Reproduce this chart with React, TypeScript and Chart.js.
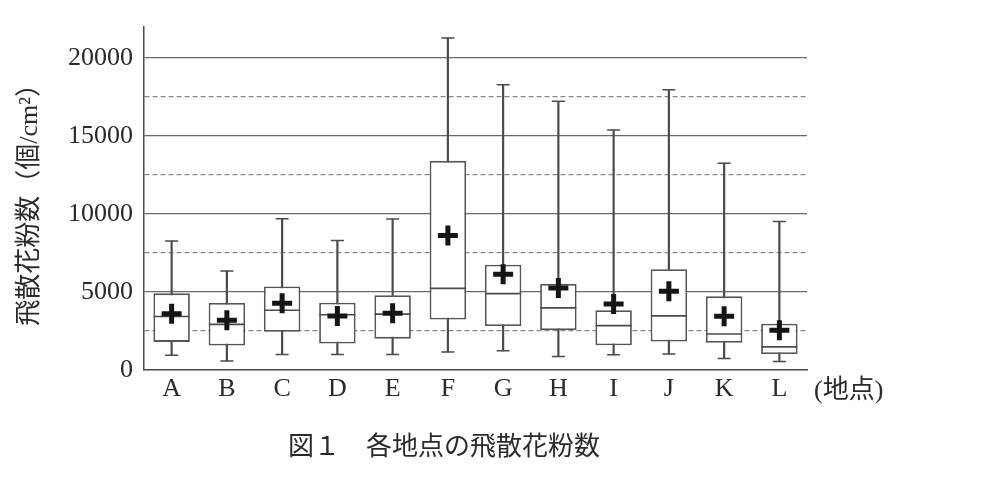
import React, { useEffect, useRef } from "react";
import { Chart, registerables } from "chart.js";

Chart.register(...registerables);

const categories = ["A", "B", "C", "D", "E", "F", "G", "H", "I", "J", "K", "L"];
const mins = [950, 570, 1000, 1000, 1000, 1160, 1230, 870, 970, 1020, 740, 550];
const q1s = [1800, 1570, 2450, 1700, 2010, 3240, 2820, 2560, 1590, 1820, 1740, 1020];
const medians = [3430, 2920, 3830, 3540, 3580, 5230, 4890, 3980, 2840, 3470, 2310, 1480];
const q3s = [4910, 4300, 5350, 4310, 4790, 13400, 6750, 5520, 3830, 6460, 4720, 2960];
const maxs = [8260, 6350, 9690, 8290, 9670, 21270, 18270, 17210, 15370, 17950, 13250, 9520];
const means = [3600, 3180, 4280, 3460, 3640, 8610, 6140, 5250, 4230, 5040, 3450, 2540];

const yTicks = [0, 5000, 10000, 15000, 20000];
const yGridValues = [0, 2500, 5000, 7500, 10000, 12500, 15000, 17500, 20000];
const yMax = 22000;
const yTitle = "飛散花粉数（個/cm²）";
const xUnit = "(地点)";
const caption = "図１　各地点の飛散花粉数";

const SERIF = '"Liberation Serif", "Noto Sans CJK JP", serif';
const LINE = "#4a4a4a";

export default function App() {
  const ref = useRef<HTMLCanvasElement | null>(null);

  useEffect(() => {
    const canvas = ref.current;
    if (!canvas) return;

    const textPlugin = {
      id: "extraText",
      afterDraw(chart: any) {
        const { ctx, chartArea } = chart;
        const xScale = chart.scales.x;
        ctx.save();
        ctx.fillStyle = "#2a2a2a";
        ctx.textBaseline = "middle";
        ctx.font = "26px " + SERIF;
        ctx.textAlign = "left";
        ctx.fillText(xUnit, chartArea.right + 7, xScale.top + 21);
        ctx.font = "26px " + SERIF;
        ctx.textAlign = "center";
        ctx.fillText(caption, chartArea.left + 300, xScale.top + 78);
        ctx.restore();
      },
    };

    const chart = new Chart(canvas, {
      type: "bar",
      data: {
        labels: categories,
        datasets: [
          {
            type: "line",
            label: "mean",
            data: means,
            showLine: false,
            pointStyle: "cross",
            pointRadius: 10,
            pointBorderWidth: 5,
            pointBorderColor: "#151515",
            pointBackgroundColor: "#151515",
            order: 0,
          } as any,
          {
            type: "line",
            label: "median",
            data: medians,
            showLine: false,
            pointStyle: "line",
            pointRadius: 18,
            pointBorderWidth: 1.6,
            pointBorderColor: LINE,
            order: 1,
          } as any,
          {
            type: "line",
            label: "max",
            data: maxs,
            showLine: false,
            pointStyle: "line",
            pointRadius: 6.5,
            pointBorderWidth: 1.5,
            pointBorderColor: LINE,
            order: 2,
          } as any,
          {
            type: "line",
            label: "min",
            data: mins,
            showLine: false,
            pointStyle: "line",
            pointRadius: 6.5,
            pointBorderWidth: 1.5,
            pointBorderColor: LINE,
            order: 2,
          } as any,
          {
            type: "bar",
            label: "box",
            data: categories.map((_, i) => [q1s[i], q3s[i]]),
            backgroundColor: "#ffffff",
            borderColor: "#555555",
            borderWidth: 1.8,
            borderSkipped: false,
            barPercentage: 0.66,
            categoryPercentage: 1,
            grouped: false,
            order: 3,
          } as any,
          {
            type: "bar",
            label: "whisker",
            data: categories.map((_, i) => [mins[i], maxs[i]]),
            backgroundColor: LINE,
            borderWidth: 0,
            barThickness: 1.5,
            grouped: false,
            order: 4,
          } as any,
        ],
      },
      options: {
        animation: false,
        responsive: false,
        maintainAspectRatio: false,
        layout: { padding: { top: 21, right: 193, bottom: 73, left: 0 } },
        plugins: {
          legend: { display: false },
          tooltip: { enabled: false },
          title: { display: false },
        },
        scales: {
          x: {
            type: "category",
            offset: true,
            grid: { display: false, drawTicks: false },
            border: { display: true, color: LINE, width: 1.5 },
            ticks: {
              padding: 4,
              color: "#2a2a2a",
              font: { family: SERIF, size: 26 },
            },
            afterFit: (scale: any) => {
              scale.height = 40;
            },
          },
          y: {
            type: "linear",
            min: 0,
            max: yMax,
            afterBuildTicks: (scale: any) => {
              scale.ticks = yGridValues.map((v) => ({ value: v }));
            },
            grid: {
              drawTicks: false,
              lineWidth: 1.2,
              color: (ctx: any) => {
                const v = ctx.tick ? ctx.tick.value : -1;
                if (v > 0 && v % 5000 === 0) return "#6a6a6a";
                if (v > 0 && v % 2500 === 0) return "#8a8a8a";
                return "rgba(0,0,0,0)";
              },
            },
            border: {
              display: true,
              color: LINE,
              width: 1.5,
              dash: (ctx: any) =>
                ctx.tick && ctx.tick.value % 5000 !== 0 ? [5, 3] : [],
            },
            ticks: {
              autoSkip: false,
              padding: 11,
              color: "#2a2a2a",
              font: { family: SERIF, size: 26 },
              callback: (value: any) =>
                yTicks.includes(Number(value)) ? String(value) : "",
            },
            title: {
              display: true,
              text: yTitle,
              color: "#2a2a2a",
              font: { family: SERIF, size: 26 },
              padding: { top: 15, bottom: 0 },
            },
            afterFit: (scale: any) => {
              scale.width = 144;
            },
          },
        },
      },
      plugins: [textPlugin],
    } as any);

    return () => chart.destroy();
  }, []);

  return (
    <div style={{ position: "absolute", left: 0, top: 0, width: 1000, height: 483, background: "#fff" }}>
      <canvas ref={ref} width={1000} height={483} style={{ width: 1000, height: 483, display: "block" }} />
    </div>
  );
}
